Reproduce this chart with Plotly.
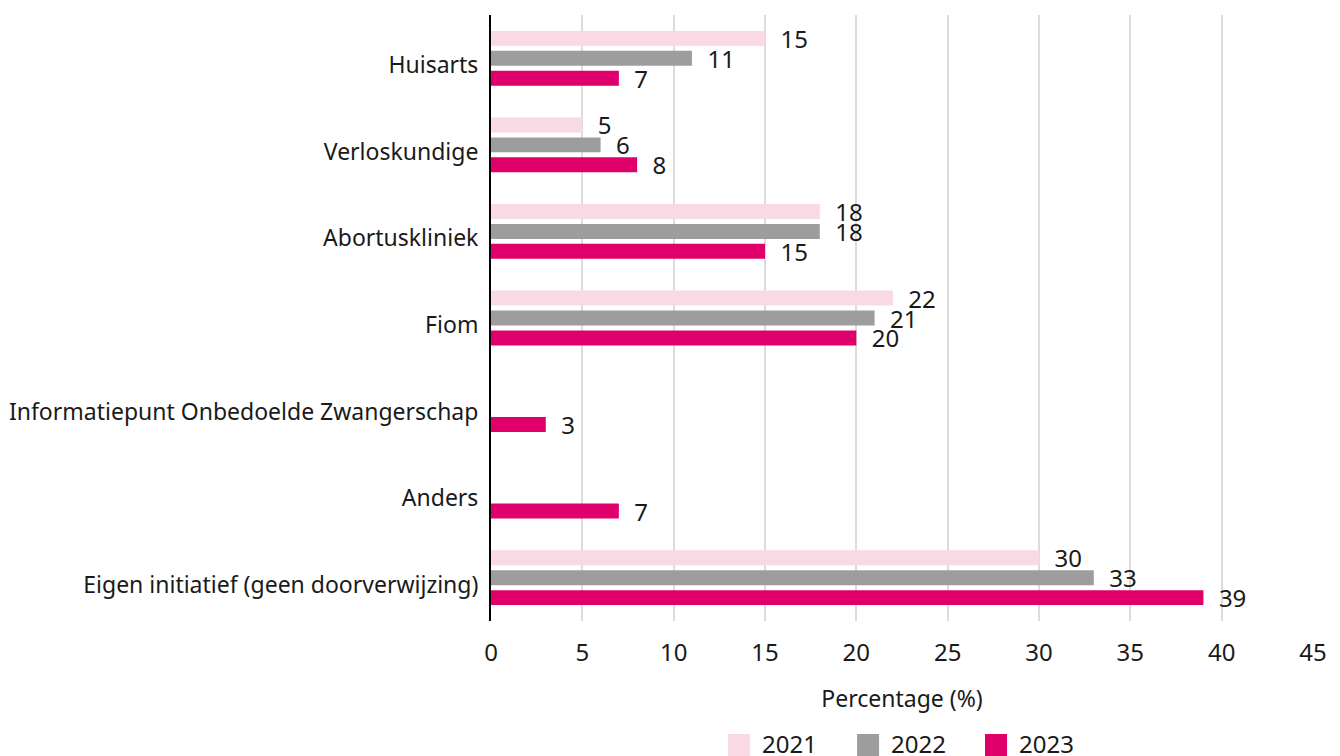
import plotly.graph_objects as go

categories = [
    "Huisarts",
    "Verloskundige",
    "Abortuskliniek",
    "Fiom",
    "Informatiepunt Onbedoelde Zwangerschap",
    "Anders",
    "Eigen initiatief (geen doorverwijzing)",
]
years = ["2021", "2022", "2023"]
values_2021 = [15, 5, 18, 22, None, None, 30]
values_2022 = [11, 6, 18, 21, None, None, 33]
values_2023 = [7, 8, 15, 20, 3, 7, 39]
x_ticks = [0, 5, 10, 15, 20, 25, 30, 35, 40, 45]

colors = ["#f9d9e4", "#9d9d9d", "#e0006b"]
series = [values_2021, values_2022, values_2023]

FONT = "Noto Sans"
TXT = "#1a1a1a"

fig = go.Figure()
for name, vals, col in zip(years, series, colors):
    fig.add_trace(go.Bar(
        y=categories, x=vals, orientation="h", name=name,
        marker=dict(color=col, line=dict(width=0)),
        text=[("  " + str(v)) if v is not None else "" for v in vals],
        textposition="outside", constraintext="none", cliponaxis=False,
        textfont=dict(family=FONT, size=24, color=TXT),
        showlegend=False, hoverinfo="x+name",
    ))

# manual legend (large square swatches), positioned in paper coordinates
sq_x0 = [0.2883, 0.4453, 0.6010]
sq_w = 0.0268
for i, (name, col) in enumerate(zip(years, colors)):
    fig.add_shape(type="rect", xref="paper", yref="paper",
                  x0=sq_x0[i], x1=sq_x0[i] + sq_w, y0=-0.2228, y1=-0.1865,
                  fillcolor=col, line=dict(width=0))
    fig.add_annotation(xref="paper", yref="paper", x=sq_x0[i] + sq_w + 0.012,
                       y=-0.2015, xanchor="left", yanchor="middle", showarrow=False,
                       text=name, font=dict(family=FONT, size=24, color=TXT))

fig.update_layout(
    width=1340, height=756,
    margin=dict(l=483, r=35, t=7, b=143, autoexpand=False),
    paper_bgcolor="white", plot_bgcolor="white",
    barmode="group", bargap=0.31, bargroupgap=0.25,
    font=dict(family=FONT, size=23, color=TXT),
    showlegend=False,
    xaxis=dict(range=[0, 45], tickvals=x_ticks, showgrid=True, gridcolor="#dcdcdc",
               gridwidth=2, zeroline=False, showline=False, ticks="outside", ticklen=10,
               automargin=False,
               tickcolor="rgba(0,0,0,0)", tickfont=dict(family=FONT, size=24, color=TXT),
               title=dict(text="Percentage (%)", standoff=24,
                          font=dict(family=FONT, size=23, color=TXT))),
    yaxis=dict(autorange="reversed", showline=True, linecolor="#000000", linewidth=2,
               showgrid=False, ticks="outside", ticklen=6, tickcolor="rgba(0,0,0,0)",
               ticklabelshift=-7, automargin=False,
               tickfont=dict(family=FONT, size=23, color=TXT)),
)

fig.write_html("out.html")
